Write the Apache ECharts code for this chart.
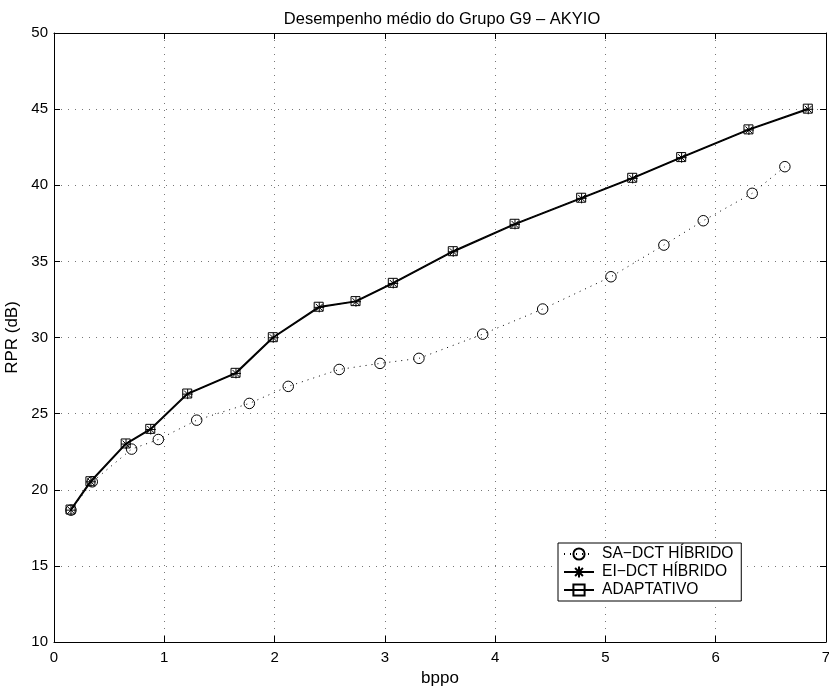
<!DOCTYPE html>
<html>
<head>
<meta charset="utf-8">
<title>Desempenho médio do Grupo G9 – AKYIO</title>
<script src="https://cdn.jsdelivr.net/npm/echarts@6/dist/echarts.min.js"></script>
<style>
  html, body { margin: 0; padding: 0; background: #fff; }
  #chart { width: 829px; height: 688px; }
</style>
</head>
<body>
<div id="chart"></div>
<script>
// Average performance (RPR in dB versus bits per pixel) for the AKYIO sequence
const titleText = 'Desempenho médio do Grupo G9 – AKYIO';
const xName = 'bppo';
const yName = 'RPR (dB)';

const saBppo = [0.154, 0.347, 0.704, 0.946, 1.294, 1.771, 2.124, 2.586, 2.956, 3.309, 3.887, 4.431, 5.05, 5.53, 5.887, 6.331, 6.627];
const saRpr  = [18.66, 20.52, 22.67, 23.30, 24.57, 25.67, 26.79, 27.90, 28.30, 28.63, 30.22, 31.87, 33.99, 36.07, 37.67, 39.47, 41.22];

const eiBppo = [0.154, 0.335, 0.653, 0.877, 1.212, 1.650, 1.988, 2.405, 2.738, 3.076, 3.620, 4.180, 4.784, 5.247, 5.691, 6.301, 6.839];
const eiRpr  = [18.66, 20.52, 23.00, 23.96, 26.28, 27.64, 29.98, 31.98, 32.35, 33.55, 35.63, 37.43, 39.14, 40.45, 41.81, 43.63, 44.99];

const adBppo = [0.150, 0.330, 0.650, 0.873, 1.208, 1.646, 1.984, 2.400, 2.734, 3.072, 3.616, 4.176, 4.780, 5.243, 5.687, 6.297, 6.835];
const adRpr  = [18.70, 20.56, 23.04, 24.00, 26.32, 27.68, 30.02, 32.02, 32.39, 33.59, 35.67, 37.47, 39.18, 40.49, 41.85, 43.67, 45.03];

const seriesNames = ['SA−DCT HÍBRIDO', 'EI−DCT HÍBRIDO', 'ADAPTATIVO'];

const pairs = (xs, ys) => xs.map((x, i) => [x, ys[i]]);

const FONT = '"Liberation Sans", Arial, Helvetica, sans-serif';
const asterisk = 'path://M5,0L5,10M0,5L10,5M1.5,1.5L8.5,8.5M1.5,8.5L8.5,1.5';

const gridLine = { show: true, lineStyle: { color: '#777', width: 1, type: [1, 6] } };
const axisLine = { show: true, onZero: false, lineStyle: { color: '#000', width: 1 } };
const tick = { show: true, inside: true, length: 6, lineStyle: { color: '#000', width: 1 } };

const chart = echarts.init(document.getElementById('chart'), null, { renderer: 'canvas' });

chart.setOption({
  animation: false,
  backgroundColor: '#fff',
  textStyle: { fontFamily: FONT },
  title: {
    text: titleText,
    left: 437,
    textAlign: 'center',
    top: 6,
    textStyle: { fontFamily: FONT, fontSize: 16.5, fontWeight: 'normal', color: '#000' }
  },
  grid: { left: 54, right: 3, top: 33, bottom: 46, containLabel: false, outerBoundsMode: 'none' },
  legend: {
    orient: 'vertical',
    left: 558,
    top: 543,
    backgroundColor: '#fff',
    borderColor: '#000',
    borderWidth: 1,
    borderRadius: 0,
    padding: [3, 8, 3, 5],
    itemGap: 2,
    itemWidth: 30,
    itemHeight: 14,
    textStyle: { fontFamily: FONT, fontSize: 15.6, lineHeight: 14, color: '#000', padding: [0, 0, 0, 3] },
    data: seriesNames
  },
  xAxis: [
    {
      type: 'value', min: 0, max: 7, interval: 1,
      name: xName, nameLocation: 'middle', nameGap: 26,
      nameTextStyle: { fontFamily: FONT, fontSize: 17, color: '#000' },
      axisLine: axisLine, axisTick: tick, splitLine: gridLine,
      axisLabel: { fontFamily: FONT, fontSize: 15, color: '#000', margin: 8 }
    },
    {
      type: 'value', min: 0, max: 7, interval: 1, position: 'top',
      axisLine: axisLine, axisTick: tick, splitLine: { show: false },
      axisLabel: { show: false }
    }
  ],
  yAxis: [
    {
      type: 'value', min: 10, max: 50, interval: 5,
      name: yName, nameLocation: 'middle', nameGap: 30,
      nameTextStyle: { fontFamily: FONT, fontSize: 17, color: '#000' },
      axisLine: axisLine, axisTick: tick, splitLine: gridLine,
      axisLabel: { fontFamily: FONT, fontSize: 15, color: '#000', margin: 6 }
    },
    {
      type: 'value', min: 10, max: 50, interval: 5, position: 'right',
      axisLine: axisLine, axisTick: tick, splitLine: { show: false },
      axisLabel: { show: false }
    }
  ],
  series: [
    {
      name: seriesNames[0],
      type: 'line',
      data: pairs(saBppo, saRpr),
      symbol: 'circle',
      symbolSize: 10.5,
      lineStyle: { color: '#000', width: 1, type: [1, 5] },
      itemStyle: { color: 'transparent', borderColor: '#000', borderWidth: 1 },
      emphasis: { disabled: true },
      z: 3
    },
    {
      name: seriesNames[1],
      type: 'line',
      data: pairs(eiBppo, eiRpr),
      symbol: asterisk,
      symbolSize: 10,
      lineStyle: { color: '#000', width: 1.3 },
      itemStyle: { color: 'transparent', borderColor: '#000', borderWidth: 1 },
      emphasis: { disabled: true },
      z: 4
    },
    {
      name: seriesNames[2],
      type: 'line',
      data: pairs(adBppo, adRpr),
      symbol: 'rect',
      symbolSize: 9,
      lineStyle: { color: '#000', width: 1.3 },
      itemStyle: { color: 'transparent', borderColor: '#000', borderWidth: 1 },
      emphasis: { disabled: true },
      z: 5
    }
  ]
});
</script>
</body>
</html>
